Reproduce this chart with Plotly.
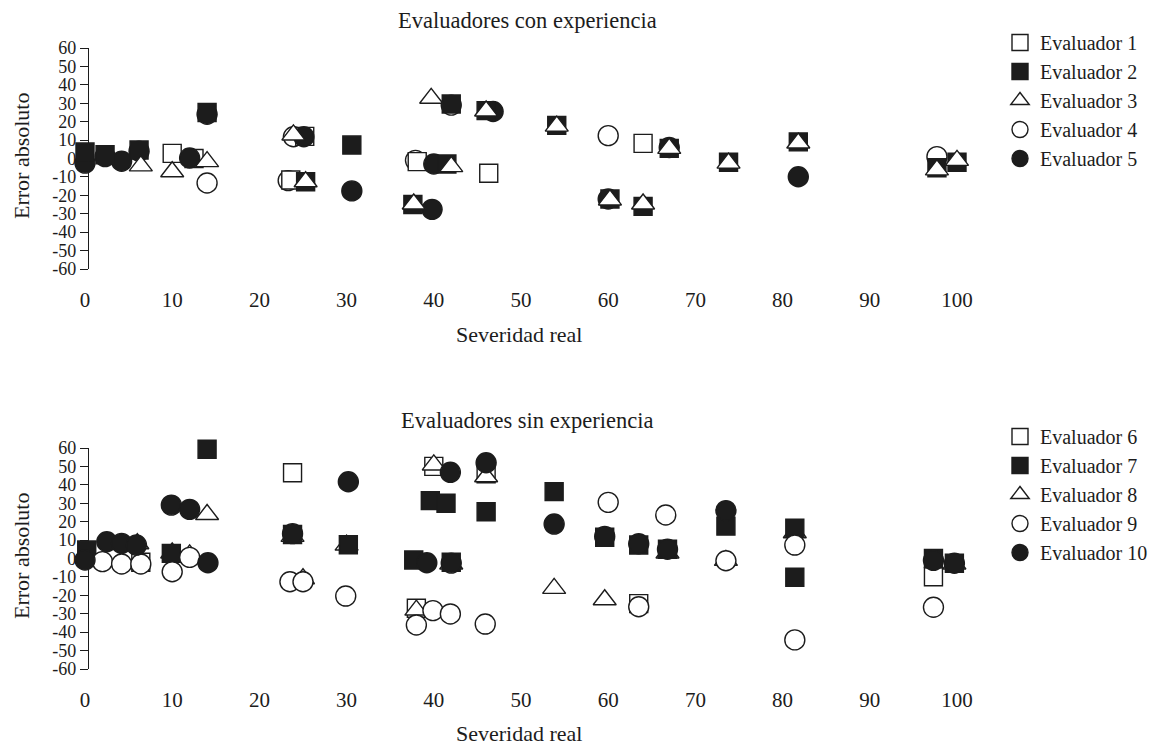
import plotly.graph_objects as go

# ---------------- data: top panel (experienced evaluators) ----------------
e1_x = [10, 12.5, 23.6, 25.2, 38.1, 46.3, 64]
e1_y = [2.8, 0, -11.7, 12, -1.7, -8, 8.2]
e2_x = [0, 2.3, 6.2, 14, 25.3, 30.6, 37.6, 41.5, 42, 46, 54.1, 60.2, 64, 67, 73.8, 81.8, 97.7, 100]
e2_y = [3.5, 2, 4.6, 25, -12.6, 7.3, -25, -3, 29.6, 26, 18, -22, -26, 5.5, -2, 9, -5, -2]
e3_x = [6.4, 10, 14, 23.9, 25.3, 37.7, 39.7, 42, 46, 54.1, 60.2, 64, 67, 73.8, 81.8, 97.7, 100]
e3_y = [-4, -7.2, -1.7, 12.8, -12.6, -24.7, 32.7, -4.4, 25.8, 17.6, -22.5, -24.7, 5.5, -2.5, 8.4, -6.2, -1]
e4_x = [14, 23.3, 23.9, 37.9, 42, 60, 97.7]
e4_y = [-13.3, -12, 11.8, -1, 29, 12.4, 1]
e5_x = [0, 2.3, 4.2, 6.2, 12, 14, 25.1, 30.6, 39.8, 40, 46.8, 60, 67, 81.8]
e5_y = [-2.5, 1, -1.5, 4, 0.3, 24, 11.8, -17.6, -27.6, -3, 25.5, -22, 6, -9.9]

# ---------------- data: bottom panel (inexperienced evaluators) ----------------
e6_x = [6.4, 23.8, 38, 40, 46, 63.5, 97.3]
e6_y = [-2, 46.6, -27, 50, 46, -24.5, -9.9]
e7_x = [0.2, 9.9, 14, 23.8, 30.2, 37.7, 39.6, 41.4, 42, 46, 53.8, 59.6, 63.5, 66.8, 73.5, 81.4, 81.4, 97.3, 99.7]
e7_y = [4.6, 2.8, 59.3, 13, 7.5, -0.8, 31.4, 30, -2, 25.4, 36.3, 11.5, 7.3, 5, 17.6, 16.4, -10.2, 0, -2.6]
e8_x = [6, 10, 12, 14, 23.8, 25, 30, 38, 40, 42, 46, 53.8, 59.6, 66.8, 73.5, 81.4, 99.7]
e8_y = [8, 3, 2, 23.9, 12, -11, 7.3, -28, 50.8, -3, 44.4, -16.2, -22.4, 3, -1, 14, -3]
e9_x = [2, 4.2, 6.4, 10, 12, 23.5, 25, 29.9, 38, 39.9, 41.9, 45.9, 60, 63.5, 66.6, 73.5, 81.4, 81.4, 97.3]
e9_y = [-1.7, -3, -3, -7.2, 0.6, -12.6, -12.6, -20.4, -36.1, -28.3, -30.1, -35.6, 30.5, -26.2, 23.6, -1.2, 7.3, -44.2, -26.5]
e10_x = [0, 2.5, 4.2, 5.9, 9.9, 12, 14.1, 23.8, 30.2, 39.2, 41.9, 42, 46, 53.8, 59.6, 63.5, 66.8, 73.5, 97.3, 99.7]
e10_y = [-0.8, 9.1, 8.2, 7.3, 29, 26.7, -2.3, 13.5, 41.7, -2.3, 46.8, -2.5, 52, 18.7, 12, 8, 5, 26, -1, -2.6]

x_ticks = list(range(0, 101, 10))
y_ticks = list(range(-60, 61, 10))
y_ticktext = [str(v) if v >= 0 else "-" + str(-v) for v in y_ticks]

titles = ["Evaluadores con experiencia", "Evaluadores sin experiencia"]
x_title = "Severidad real"
y_title = "Error absoluto"

FONT = "Liberation Serif"
INK = "#1c1c1c"
OFF = 8                      # page body margin in the browser
W, H = 1167 - OFF, 747 - OFF

def fx(px):
    return (px - OFF) / W

def fy(py):
    return 1 - (py - OFF) / H

styles = {
    "square-open": dict(symbol="square", color="white", size=18),
    "square": dict(symbol="square", color=INK, size=18),
    "triangle": dict(symbol="triangle-up", color="white", size=20),
    "circle-open": dict(symbol="circle", color="white", size=20),
    "circle": dict(symbol="circle", color=INK, size=20),
}

fig = go.Figure()

def add(name, xs, ys, style, rank, xa, ya, legend):
    st = styles[style]
    fig.add_trace(go.Scatter(
        x=xs, y=ys, mode="markers", name=name,
        marker=dict(symbol=st["symbol"], size=st["size"], color=st["color"],
                    line=dict(color=INK, width=1.4)),
        xaxis=xa, yaxis=ya, legend=legend, legendrank=rank, cliponaxis=False,
    ))

# top panel (draw order chosen to mimic overlaps)
add("Evaluador 4", e4_x, e4_y, "circle-open", 4, "x", "y", "legend")
add("Evaluador 1", e1_x, e1_y, "square-open", 1, "x", "y", "legend")
add("Evaluador 5", e5_x, e5_y, "circle", 5, "x", "y", "legend")
add("Evaluador 2", e2_x, e2_y, "square", 2, "x", "y", "legend")
add("Evaluador 3", e3_x, e3_y, "triangle", 3, "x", "y", "legend")
# bottom panel
add("Evaluador 6", e6_x, e6_y, "square-open", 1, "x3", "y2", "legend2")
add("Evaluador 8", e8_x, e8_y, "triangle", 3, "x3", "y2", "legend2")
add("Evaluador 7", e7_x, e7_y, "square", 2, "x3", "y2", "legend2")
add("Evaluador 9", e9_x, e9_y, "circle-open", 4, "x3", "y2", "legend2")
add("Evaluador 10", e10_x, e10_y, "circle", 5, "x3", "y2", "legend2")

# geometry (reference pixels -> paper)
px0, px1 = 85, 968          # x = 0 at px0, right end of axis line at px1
px_per_unit = 8.72
xr = [0, (px1 - px0) / px_per_unit]
xdom = [fx(px0), fx(px1)]
ypos = fx(88)
top_dom = [fy(269), fy(48)]
bot_dom = [fy(669), fy(448)]

tickfont = dict(family=FONT, size=21, color=INK)

def label_axis(anchor):
    return dict(domain=xdom, range=xr, anchor=anchor, showline=False, showgrid=False,
                zeroline=False, tickmode="array", tickvals=x_ticks,
                ticks="outside", ticklen=12, tickcolor="rgba(0,0,0,0)",
                tickfont=tickfont, automargin=False)

def zero_axis(over, dom):
    return dict(overlaying=over, range=xr, anchor="free", position=(dom[0] + dom[1]) / 2,
                showline=True, linecolor=INK, linewidth=1.3, showgrid=False, zeroline=False,
                tickmode="array", tickvals=x_ticks, ticks="outside", ticklen=9,
                tickwidth=1.3, tickcolor=INK, showticklabels=False, automargin=False)

def y_axis(dom):
    return dict(domain=dom, range=[-60, 60], anchor="free", position=ypos,
                showline=True, linecolor=INK, linewidth=1.3, showgrid=False, zeroline=False,
                tickmode="array", tickvals=y_ticks, ticktext=y_ticktext,
                ticks="outside", ticklen=8, tickwidth=1.3, tickcolor=INK,
                tickfont=dict(family=FONT, size=18, color=INK), automargin=False)

ann = []
for t, yc in zip(titles, [21, 421]):
    ann.append(dict(text=t, x=fx(527), y=fy(yc), xref="paper", yref="paper",
                    showarrow=False, xanchor="center", yanchor="middle",
                    font=dict(family=FONT, size=22.5, color=INK)))
for yc in [335, 733]:
    ann.append(dict(text=x_title, x=fx(519), y=fy(yc), xref="paper", yref="paper",
                    showarrow=False, xanchor="center", yanchor="middle",
                    font=dict(family=FONT, size=22, color=INK)))
for yc in [156, 556]:
    ann.append(dict(text=y_title, x=fx(21), y=fy(yc), xref="paper", yref="paper",
                    showarrow=False, xanchor="center", yanchor="middle", textangle=-90,
                    font=dict(family=FONT, size=22, color=INK)))

legfont = dict(family=FONT, size=20, color=INK)
fig.update_layout(
    width=W, height=H, margin=dict(l=0, r=0, t=0, b=0, pad=0, autoexpand=False),
    paper_bgcolor="white", plot_bgcolor="white",
    xaxis=label_axis("y"), xaxis2=zero_axis("x", top_dom),
    xaxis3=label_axis("y2"), xaxis4=zero_axis("x3", bot_dom),
    yaxis=y_axis(top_dom), yaxis2=y_axis(bot_dom),
    annotations=ann,
    legend=dict(x=fx(1000), y=fy(23), xanchor="left", yanchor="top", font=legfont,
                itemsizing="trace", bgcolor="rgba(0,0,0,0)", tracegroupgap=0),
    legend2=dict(x=fx(1000), y=fy(417), xanchor="left", yanchor="top", font=legfont,
                 itemsizing="trace", bgcolor="rgba(0,0,0,0)", tracegroupgap=0),
    showlegend=True,
)

fig.write_html("out.html")
